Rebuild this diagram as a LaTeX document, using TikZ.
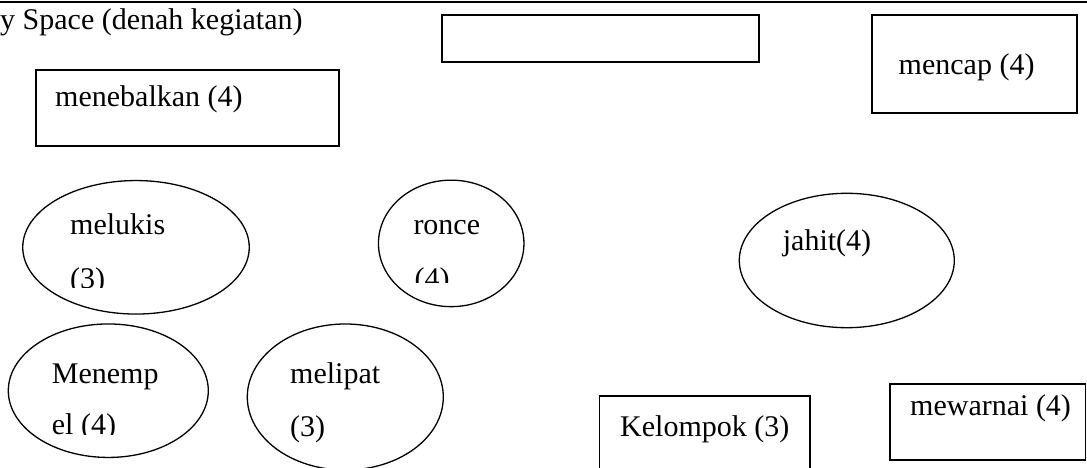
\documentclass[tikz,border=0pt]{standalone}
\usepackage{fontspec}
\setmainfont{Liberation Serif}
\usetikzlibrary{shapes.geometric}
\begin{document}
\begin{tikzpicture}[x=1pt,y=-1pt,
  box/.style={draw,line width=1.2pt,rectangle,inner sep=0pt},
  oval/.style={draw,line width=1.3pt,ellipse,inner sep=0pt},
  lbl/.style={anchor=base west,inner sep=0pt,font=\fontsize{30}{36}\selectfont}]
\clip (0,0) rectangle (1087,468);
\fill[white] (0,0) rectangle (1087,468);
% top rule
\coordinate (ruleL) at (0,2);
\coordinate (ruleR) at (1087,2);
\draw[line width=2.5pt] (ruleL) -- (ruleR);
\node[lbl] (title) at (0,30) {y Space (denah kegiatan)};
% rectangles
\node[box,minimum width=303pt,minimum height=76pt] (bmeneb) at (187.5,108) {};
\node[box,minimum width=317pt,minimum height=47pt] (bempty) at (600.5,38.5) {};
\node[box,minimum width=205pt,minimum height=98pt] (bmencap) at (974.5,64) {};
\node[box,minimum width=210.5pt,minimum height=90pt] (bkel) at (704.75,441) {};
\node[box,minimum width=195.5pt,minimum height=76pt] (bwarna) at (987.75,422) {};
% ellipses
\node[oval,minimum width=226.5pt,minimum height=133.5pt] (emelukis) at (136,247.3) {};
\node[oval,minimum width=145.5pt,minimum height=126.5pt] (eronce) at (451.2,243.4) {};
\node[oval,minimum width=200pt,minimum height=133.5pt] (emenempel) at (108.3,390.7) {};
\node[oval,minimum width=196pt,minimum height=146pt] (emelipat) at (345.3,397) {};
\node[oval,minimum width=215pt,minimum height=134.4pt] (ejahit) at (846.8,260.5) {};
% labels
\node[lbl] (tmeneb) at (55,107) {menebalkan (4)};
\node[lbl] (tmencap) at (898.5,74.5) {mencap (4)};
\node[lbl] (tjahit) at (782.7,250) {jahit(4)};
\node[lbl] (tkel) at (620,436.5) {Kelompok (3)};
\node[lbl] (twarna) at (910,415) {mewarnai (4)};
\node[lbl] (tmelukis1) at (70,234.3) {melukis};
\begin{scope}
\clip (60,245) rectangle (200,287);
\node[lbl] (tmelukis2) at (70,288) {(3)};
\end{scope}
\node[lbl] (tronce1) at (413.3,234) {ronce};
\begin{scope}
\clip (400,245) rectangle (500,282);
\node[lbl] (tronce2) at (414.5,288) {(4)};
\end{scope}
\node[lbl] (tmenemp1) at (51.7,383) {Menemp};
\begin{scope}
\clip (40,395) rectangle (200,434);
\node[lbl] (tmenemp2) at (51.7,434) {el (4)};
\end{scope}
\node[lbl] (tmelipat1) at (290,383) {melipat};
\node[lbl] (tmelipat2) at (290,436.5) {(3)};
\end{tikzpicture}
\end{document}
